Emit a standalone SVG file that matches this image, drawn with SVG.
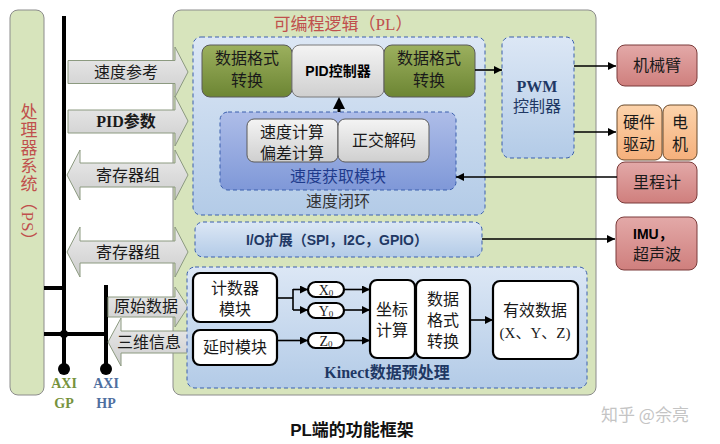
<svg xmlns="http://www.w3.org/2000/svg" width="720" height="444" viewBox="0 0 720 444">
<style>
.t{font-family:"Liberation Serif","Noto Sans CJK SC",serif;font-size:16px;fill:#1a1a1a;text-anchor:middle}
.b{font-family:"Liberation Sans","Noto Sans CJK SC",sans-serif;font-weight:bold;font-size:15px;text-anchor:middle}
.dash{stroke:#3a5fad;stroke-width:1;stroke-dasharray:4 3}
.wbox{fill:#fff;stroke:#000;stroke-width:2.2}
.ln{stroke:#000;stroke-width:1.6;fill:none}
.bus{stroke:#000;stroke-width:4;fill:none}
.fat{fill:url(#gArr);stroke:#8c9a80;stroke-width:1}
.red{fill:url(#gRed);stroke:#7a3b3a;stroke-width:1}
.peach{fill:url(#gPeach);stroke:#6b4a2a;stroke-width:1}
</style>
<defs>
<linearGradient id="gOlive" x1="0" y1="0" x2="0" y2="1"><stop offset="0" stop-color="#9cb05e"/><stop offset="1" stop-color="#6c8533"/></linearGradient>
<linearGradient id="gGray" x1="0" y1="0" x2="0" y2="1"><stop offset="0" stop-color="#f4f4f4"/><stop offset="1" stop-color="#cfcfcf"/></linearGradient>
<linearGradient id="gBlue" x1="0" y1="0" x2="0" y2="1"><stop offset="0" stop-color="#dce7f5"/><stop offset="1" stop-color="#b3cbe7"/></linearGradient>
<linearGradient id="gBlue2" x1="0" y1="0" x2="0" y2="1"><stop offset="0" stop-color="#aebde8"/><stop offset="1" stop-color="#7f98d8"/></linearGradient>
<linearGradient id="gArr" x1="0" y1="0" x2="0" y2="1"><stop offset="0" stop-color="#ececec"/><stop offset="1" stop-color="#cdcdcd"/></linearGradient>
<linearGradient id="gRed" x1="0" y1="0" x2="0" y2="1"><stop offset="0" stop-color="#e3a9a8"/><stop offset="1" stop-color="#cf7f7d"/></linearGradient>
<linearGradient id="gPeach" x1="0" y1="0" x2="0" y2="1"><stop offset="0" stop-color="#fcd3ab"/><stop offset="1" stop-color="#f5b07c"/></linearGradient>
<marker id="ah" viewBox="0 0 10 10" refX="10" refY="5" markerWidth="8" markerHeight="8" markerUnits="userSpaceOnUse" orient="auto"><path d="M0,0 L10,5 L0,10 z" fill="#000"/></marker>
</defs>
<rect width="720" height="444" fill="#fff"/>

<g id="ps">
<rect x="10" y="10" width="34" height="385" rx="8" fill="#d7e4bc" stroke="#8c8c8c"/>
<text x="27" y="177" style="writing-mode:vertical-rl;font-family:'Liberation Serif','Noto Sans CJK SC',serif;font-size:17px;letter-spacing:1px;fill:#c0504d;text-anchor:middle">处理器系统（PS）</text>
</g>

<g id="pl">
<rect x="173" y="10" width="423" height="385" rx="8" fill="#d7e4bc" stroke="#8c8c8c"/>
<text x="343" y="30" class="t" style="fill:#c0504d;font-size:17px">可编程逻辑（PL）</text>
</g>

<g id="bus">
<line class="bus" x1="64" y1="16" x2="64" y2="368"/>
<line class="bus" x1="106" y1="285" x2="106" y2="368"/>
<line class="bus" x1="44" y1="288" x2="64" y2="288"/>
<line class="bus" x1="44" y1="334" x2="106" y2="334"/>
<circle cx="64" cy="334" r="4" fill="#000"/>
<circle cx="64" cy="369" r="6" fill="#000"/>
<circle cx="106" cy="369" r="6" fill="#000"/>
<text x="64" y="388" class="t" style="font-weight:bold;font-size:14px;fill:#76923c">AXI</text>
<text x="64" y="408" class="t" style="font-weight:bold;font-size:14px;fill:#76923c">GP</text>
<text x="106" y="388" class="t" style="font-weight:bold;font-size:14px;fill:#4f6f9f">AXI</text>
<text x="106" y="408" class="t" style="font-weight:bold;font-size:14px;fill:#4f6f9f">HP</text>
</g>

<g id="speed-ref">
<polygon class="fat" points="68,60.5 175,60.5 175,47 188,72 175,97 175,83.5 68,83.5"/>
<text x="126" y="78" class="t">速度参考</text>
</g>
<g id="pid-param">
<polygon class="fat" points="68,110 175,110 175,96 188,121 175,146 175,133 68,133"/>
<text x="126" y="127" class="t" style="font-weight:bold">PID参数</text>
</g>
<g id="reg1">
<polygon class="fat" points="67,175 80,150 80,163 175,163 175,150 188,175 175,200 175,187 80,187 80,200"/>
<text x="128" y="181" class="t">寄存器组</text>
</g>
<g id="reg2">
<polygon class="fat" points="67,252 80,227 80,241 175,241 175,227 188,252 175,277 175,263 80,263 80,277"/>
<text x="128" y="258" class="t">寄存器组</text>
</g>
<g id="raw">
<polygon class="fat" points="108,297 175,297 175,287 188,307 175,327 175,317 108,317"/>
<text x="146" y="312" class="t">原始数据</text>
</g>
<g id="info3d">
<polygon class="fat" points="108,342 121,318 121,331 188,331 188,353 121,353 121,366"/>
<text x="149" y="348" class="t">三维信息</text>
</g>

<g id="speed-loop">
<rect x="193" y="37" width="292" height="178" rx="8" fill="url(#gBlue)" class="dash"/>
<text x="338" y="207" class="t" style="fill:#333">速度闭环</text>
</g>
<g id="fmt1">
<rect x="202" y="45" width="90" height="52" rx="8" fill="url(#gOlive)" stroke="#5a5a5a"/>
<text x="247" y="64" class="t">数据格式</text>
<text x="247" y="86" class="t">转换</text>
</g>
<g id="pid">
<rect x="292" y="45" width="92" height="52" rx="8" fill="url(#gGray)" stroke="#7a7a7a"/>
<text x="338" y="76" class="b" style="font-size:14px">PID控制器</text>
</g>
<g id="fmt2">
<rect x="384" y="45" width="91" height="52" rx="8" fill="url(#gOlive)" stroke="#5a5a5a"/>
<text x="429" y="64" class="t">数据格式</text>
<text x="429" y="86" class="t">转换</text>
</g>
<g id="speed-acq">
<rect x="220" y="112" width="236" height="78" rx="8" fill="url(#gBlue2)" class="dash"/>
<text x="338" y="182" class="t" style="fill:#1f3b8c">速度获取模块</text>
</g>
<g id="speed-calc">
<rect x="247" y="119" width="91" height="43" rx="7" fill="url(#gGray)" stroke="#5a5a5a"/>
<text x="292" y="138" class="t">速度计算</text>
<text x="292" y="159" class="t">偏差计算</text>
</g>
<g id="quad">
<rect x="338" y="119" width="91" height="43" rx="7" fill="url(#gGray)" stroke="#5a5a5a"/>
<text x="384" y="146" class="t">正交解码</text>
</g>
<g id="pwm">
<rect x="502" y="37" width="72" height="121" rx="8" fill="url(#gBlue)" class="dash"/>
<text x="537" y="92" class="t" style="font-weight:bold;fill:#1f3864">PWM</text>
<text x="537" y="112" class="t" style="fill:#1f3864">控制器</text>
</g>
<g id="io">
<rect x="195" y="222" width="287" height="35" rx="8" fill="url(#gBlue)" class="dash"/>
<text x="337" y="245" class="b" style="font-size:14px;fill:#1f3864">I/O扩展（SPI，I2C，GPIO）</text>
</g>
<g id="kinect">
<rect x="187" y="267" width="400" height="121" rx="8" fill="url(#gBlue)" class="dash"/>
<text x="387" y="378" class="t" style="font-weight:bold;fill:#1f3864">Kinect数据预处理</text>
</g>
<g id="counter">
<rect x="193" y="273" width="84" height="49" rx="7" class="wbox"/>
<text x="235" y="294" class="t">计数器</text>
<text x="235" y="315" class="t">模块</text>
</g>
<g id="delay">
<rect x="193" y="330" width="84" height="35" rx="7" class="wbox"/>
<text x="235" y="353" class="t">延时模块</text>
</g>
<g id="x0">
<rect x="308" y="282" width="36" height="15" rx="7.5" class="wbox"/>
<text x="326" y="295" class="t" style="font-size:14px">X<tspan style="font-size:9px" dy="1">0</tspan></text>
</g>
<g id="y0">
<rect x="308" y="303" width="36" height="15" rx="7.5" class="wbox"/>
<text x="326" y="316" class="t" style="font-size:14px">Y<tspan style="font-size:9px" dy="1">0</tspan></text>
</g>
<g id="z0">
<rect x="308" y="333" width="36" height="15" rx="7.5" class="wbox"/>
<text x="326" y="346" class="t" style="font-size:14px">Z<tspan style="font-size:9px" dy="1">0</tspan></text>
</g>
<g id="coord">
<rect x="370" y="280" width="45" height="78" rx="7" class="wbox"/>
<text x="392" y="315" class="t">坐标</text>
<text x="392" y="336" class="t">计算</text>
</g>
<g id="fmt3">
<rect x="416" y="280" width="54" height="78" rx="7" class="wbox"/>
<text x="443" y="305" class="t">数据</text>
<text x="443" y="326" class="t">格式</text>
<text x="443" y="347" class="t">转换</text>
</g>
<g id="valid">
<rect x="493" y="281" width="85" height="78" rx="7" class="wbox"/>
<text x="535" y="316" class="t">有效数据</text>
<text x="535" y="338" class="t" style="font-size:15px">(X、Y、Z)</text>
</g>

<g id="arm">
<rect x="617" y="45" width="80" height="41" rx="8" class="red"/>
<text x="657" y="71" class="t">机械臂</text>
</g>
<g id="driver">
<rect x="617" y="105" width="45" height="55" rx="7" class="peach"/>
<text x="639" y="128" class="t">硬件</text>
<text x="639" y="150" class="t">驱动</text>
</g>
<g id="motor">
<rect x="663" y="105" width="34" height="55" rx="7" class="peach"/>
<text x="680" y="128" class="t">电</text>
<text x="680" y="150" class="t">机</text>
</g>
<g id="odo">
<rect x="617" y="162" width="80" height="41" rx="8" class="red"/>
<text x="657" y="188" class="t">里程计</text>
</g>
<g id="imu">
<rect x="616" y="217" width="81" height="53" rx="8" class="red"/>
<text x="633" y="239" class="b" style="text-anchor:start;font-size:14px">IMU，</text>
<text x="633" y="260" class="t" style="text-anchor:start">超声波</text>
</g>

<g id="connectors">
<line class="ln" x1="475" y1="70" x2="502" y2="70" marker-end="url(#ah)"/>
<line class="ln" x1="574" y1="66" x2="616" y2="66" marker-end="url(#ah)"/>
<line class="ln" x1="574" y1="132" x2="616" y2="132" marker-end="url(#ah)"/>
<line class="ln" x1="617" y1="177" x2="456" y2="177" marker-end="url(#ah)"/>
<line class="ln" x1="482" y1="239" x2="615" y2="239" marker-end="url(#ah)"/>
<line x1="339" y1="112" x2="339" y2="106" stroke="#000" stroke-width="3"/>
<polygon points="333,109 339,97 345,109" fill="#000"/>
<polyline class="ln" points="277,298 293,298"/>
<polyline class="ln" points="293,289 293,310"/>
<line class="ln" x1="293" y1="289.5" x2="308" y2="289.5" marker-end="url(#ah)"/>
<line class="ln" x1="293" y1="310" x2="308" y2="310" marker-end="url(#ah)"/>
<line class="ln" x1="277" y1="340.5" x2="308" y2="340.5" marker-end="url(#ah)"/>
<line class="ln" x1="344" y1="289.5" x2="370" y2="289.5" marker-end="url(#ah)"/>
<line class="ln" x1="344" y1="310" x2="370" y2="310" marker-end="url(#ah)"/>
<line class="ln" x1="344" y1="340.5" x2="370" y2="340.5" marker-end="url(#ah)"/>
<line class="ln" x1="470" y1="320" x2="493" y2="320" marker-end="url(#ah)"/>
</g>

<text x="645" y="421" style="font-family:'Noto Sans CJK SC',sans-serif;font-size:17px;fill:#c4c4c4;text-anchor:middle">知乎 @佘亮</text>
<text x="352" y="436" class="b" style="font-size:17px;fill:#111">PL端的功能框架</text>
</svg>
